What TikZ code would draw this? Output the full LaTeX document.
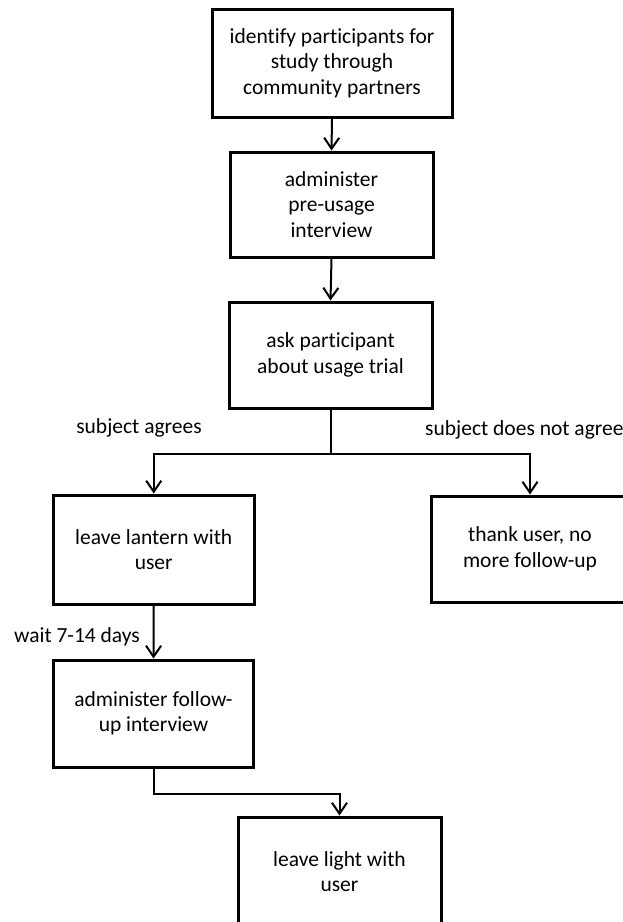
\documentclass[tikz,border=0pt]{standalone}
\usepackage{fontspec}
\setmainfont{Carlito}[RawFeature={-liga}]
\usetikzlibrary{arrows.meta}
\begin{document}
\begin{tikzpicture}[x=1pt,y=-1pt,
  box/.style={draw, line width=3pt, align=center, inner sep=0pt,
    font=\fontsize{21.5}{25.5}\selectfont},
  lbl/.style={inner sep=0pt, font=\fontsize{21.5}{25.5}\selectfont},
  arr/.style={line width=2pt, -{Straight Barb[length=11pt,width=15pt]}},
  conn/.style={line width=2pt}]
\useasboundingbox (0,0) rectangle (623,922);
\node[box, minimum width=240pt, minimum height=108pt] (b1) at (332,63)
  {identify participants for\\study through\\community partners};
\node[box, minimum width=203pt, minimum height=105pt] (b2) at (331.5,204.5)
  {administer\\pre-usage\\interview};
\node[box, minimum width=203pt, minimum height=106pt] (b3) at (330.5,355)
  {ask participant\\about usage trial};
\node[box, minimum width=200.5pt, minimum height=109pt] (b4) at (153.75,549.5)
  {leave lantern with\\user};
\node[box, minimum width=198pt, minimum height=106pt] (b7) at (530,549)
  {thank user, no\\more follow-up};
\node[box, minimum width=200pt, minimum height=107pt] (b5) at (153.5,713.5)
  {administer follow-\\up interview};
\node[box, minimum width=203pt, minimum height=109pt] (b6) at (339.5,871.5)
  {leave light with\\user};
\node[lbl] (l1) at (139,428) {subject agrees};
\node[lbl, anchor=west] (l2) at (425,430) {subject does not agree};
\node[lbl] (l3) at (77,637) {wait 7-14 days};
\draw[arr] (b1.south) -- (b2.north);
\draw[arr] (b2.south) -- (b3.north);
\draw[conn] (b3.south) -- ++(0,44) coordinate (split);
\draw[arr] (split) -| (b4.north);
\draw[arr] (split) -| (b7.north);
\draw[arr] (b4.south) -- (b5.north);
\draw[arr] (b5.south) -- ++(0,25) -| (b6.north);
\end{tikzpicture}
\end{document}
